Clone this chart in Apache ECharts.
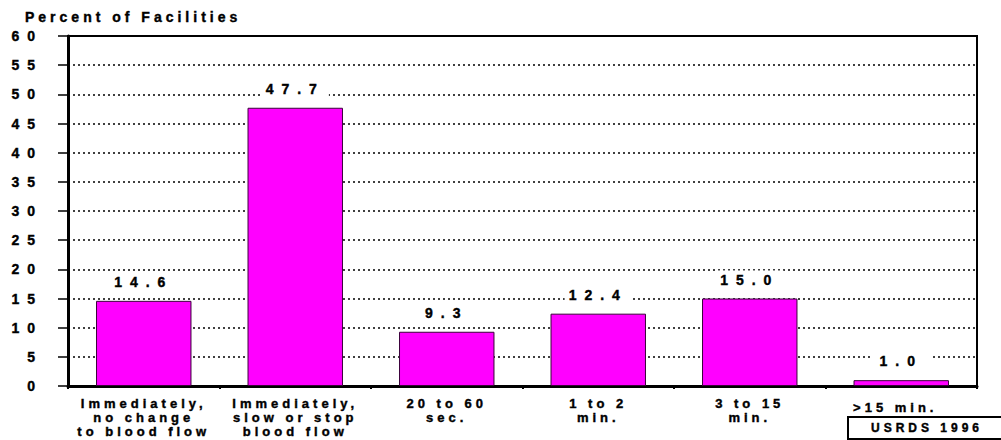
<!DOCTYPE html>
<html>
<head>
<meta charset="utf-8">
<script src="https://cdn.jsdelivr.net/npm/echarts@6/dist/echarts.min.js"></script>
<style>
  html, body { margin: 0; padding: 0; background: #fff; }
  #chart { width: 1001px; height: 440px; }
  /* wide tracking and a heavy face on every text element, as in the printed report */
  #chart svg text { letter-spacing: 4px; stroke: #000; stroke-width: 0.4px; }
  /* numbers (axis values, bar values) are tracked even wider */
  #chart svg text[style*="Arimo"] { letter-spacing: 8px; }
</style>
</head>
<body>
<div id="chart"></div>
<script>
// Time until the dialysis needles are removed after treatment
const categories = [
  'Immediately,\nno change\nto blood flow',
  'Immediately,\nslow or stop\nblood flow',
  '20 to 60\nsec.',
  '1 to 2\nmin.',
  '3 to 15\nmin.',
  '>15 min.'
];
const percentFacilities = [14.6, 47.7, 9.3, 12.4, 15.0, 1.0];
const yTicks = [0, 5, 10, 15, 20, 25, 30, 35, 40, 45, 50, 55, 60];
const yTitle = 'Percent of Facilities';
const sourceNote = 'USRDS 1996';

const FONT = '"Liberation Sans", Arial, sans-serif';
const NUM_FONT = 'Arimo, "Liberation Sans", Arial, sans-serif';
const chart = echarts.init(document.getElementById('chart'), null, { renderer: 'svg' });

chart.setOption({
  animation: false,
  backgroundColor: '#fff',
  grid: {
    left: 68, right: 24, top: 36, bottom: 54,
    show: true, borderColor: '#000', borderWidth: 2
  },
  xAxis: {
    type: 'category',
    data: categories.map((c, i) => i === categories.length - 1
      ? { value: c, textStyle: { padding: [4, 12, 0, 0] } }
      : c),
    axisLine: { lineStyle: { color: '#000', width: 3 } },
    axisTick: { show: true, length: 3, lineStyle: { color: '#000', width: 2 } },
    axisLabel: {
      color: '#000', fontFamily: FONT, fontWeight: 'bold', fontSize: 13,
      lineHeight: 14, margin: 10, interval: 0
    },
    splitLine: { show: false }
  },
  yAxis: {
    type: 'value',
    min: yTicks[0], max: yTicks[yTicks.length - 1], interval: 5,
    axisLine: { show: true, lineStyle: { color: '#000', width: 3 } },
    axisTick: { show: true, length: 10, lineStyle: { color: '#000', width: 1.5 } },
    axisLabel: {
      color: '#000', fontFamily: NUM_FONT, fontWeight: 'bold', fontSize: 14,
      margin: 25
    },
    splitLine: { show: true, lineStyle: { color: '#000', width: 1.5, type: [2, 3] } }
  },
  series: [{
    type: 'bar',
    data: percentFacilities,
    barWidth: '63%',
    itemStyle: { color: '#FF00FF', borderColor: '#3a003a', borderWidth: 1 },
    label: {
      show: true, position: 'top', distance: 10,
      color: '#000', fontFamily: NUM_FONT, fontWeight: 'bold', fontSize: 14,
      backgroundColor: '#fff', padding: [2, 20, 2, 20],
      formatter: p => p.value.toFixed(1)
    }
  }],
  graphic: [
    {
      type: 'text', left: 25, top: 10,
      style: { text: yTitle, fill: '#000', font: 'bold 14px ' + FONT }
    },
    {
      type: 'rect', shape: { x: 848, y: 417, width: 160, height: 22 },
      style: { fill: '#fff', stroke: '#000', lineWidth: 2 }
    },
    {
      type: 'text', x: 927, y: 428,
      style: { text: sourceNote, fill: '#000', font: 'bold 12px ' + FONT,
               align: 'center', verticalAlign: 'middle' }
    }
  ]
});
</script>
</body>
</html>
